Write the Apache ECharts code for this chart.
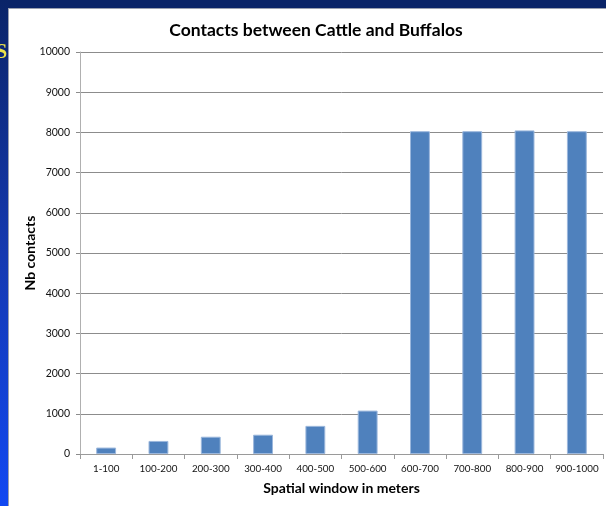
<!DOCTYPE html>
<html>
<head>
<meta charset="utf-8">
<script src="https://cdn.jsdelivr.net/npm/echarts@6/dist/echarts.min.js"></script>
<style>
html,body{margin:0;padding:0;background:#fff;}
#c{width:606px;height:506px;}
</style>
</head>
<body>
<div id="c"></div>
<script>
const categories = ['1-100','100-200','200-300','300-400','400-500','500-600','600-700','700-800','800-900','900-1000'];
const contacts = [160, 325, 430, 480, 700, 1080, 8030, 8030, 8050, 8030];
const yTicks = {min: 0, max: 10000, interval: 1000};
const titleText = 'Contacts between Cattle and Buffalos';
const xName = 'Spatial window in meters';
const yName = 'Nb contacts';

const chart = echarts.init(document.getElementById('c'), null, {renderer: 'canvas'});
const FONT = 'Lato, "Open Sans", sans-serif';
chart.setOption({
  animation: false,
  backgroundColor: '#ffffff',
  graphic: [
    {type: 'rect', left: 0, top: 0, shape: {width: 606, height: 8}, style: {fill: '#0a2468'}, z: 10},
    {type: 'rect', left: 0, top: 0, shape: {width: 8, height: 506},
     style: {fill: new echarts.graphic.LinearGradient(0, 0, 0, 1, [
       {offset: 0, color: '#0a2468'}, {offset: 0.5, color: '#1539b0'}, {offset: 1, color: '#1148f2'}])}, z: 10},
    {type: 'rect', left: 8, top: 8, shape: {width: 598, height: 1}, style: {fill: '#9aa0b0'}, z: 10},
    {type: 'rect', left: 8, top: 8, shape: {width: 1, height: 498}, style: {fill: '#9aa0b0'}, z: 10},
    {type: 'text', left: -4, top: 43, z: 11,
     style: {text: 'S', fill: '#ece24a', font: 'bold 20px "Liberation Serif", serif'}}
  ],
  title: {
    text: titleText, left: 311, top: 16, textAlign: 'center',
    textStyle: {fontFamily: FONT, fontWeight: 'bold', fontSize: 17.5, color: '#000'}
  },
  grid: {left: 80, right: 3, top: 52, bottom: 52, containLabel: false},
  xAxis: {
    type: 'category', data: categories,
    name: xName, nameLocation: 'middle', nameGap: 27,
    nameTextStyle: {fontFamily: FONT, fontWeight: 'bold', fontSize: 14, color: '#000'},
    axisLine: {lineStyle: {color: '#9a9a9a', width: 1}},
    axisTick: {show: true, alignWithLabel: false, length: 5, lineStyle: {color: '#9a9a9a'}},
    axisLabel: {fontFamily: FONT, fontSize: 9.8, color: '#111', margin: 10, interval: 0}
  },
  yAxis: {
    type: 'value', min: yTicks.min, max: yTicks.max, interval: yTicks.interval,
    name: yName, nameLocation: 'middle', nameGap: 43, nameRotate: 90, nameMoveOverlap: false,
    nameTextStyle: {fontFamily: FONT, fontWeight: 'bold', fontSize: 14, color: '#000'},
    axisLine: {show: true, lineStyle: {color: '#b0b0b0', width: 1}},
    axisTick: {show: true, length: 4, lineStyle: {color: '#8c8c8c'}},
    axisLabel: {fontFamily: FONT, fontSize: 10.5, color: '#111', margin: 10,
      formatter: function (v) { return String(v); }},
    splitLine: {show: true, lineStyle: {color: '#8c8c8c', width: 1}}
  },
  series: [{
    type: 'bar', data: contacts, barWidth: '38%',
    itemStyle: {color: '#4f81bd', borderColor: '#9bb7dc', borderWidth: 1}
  }]
});
</script>
</body>
</html>
